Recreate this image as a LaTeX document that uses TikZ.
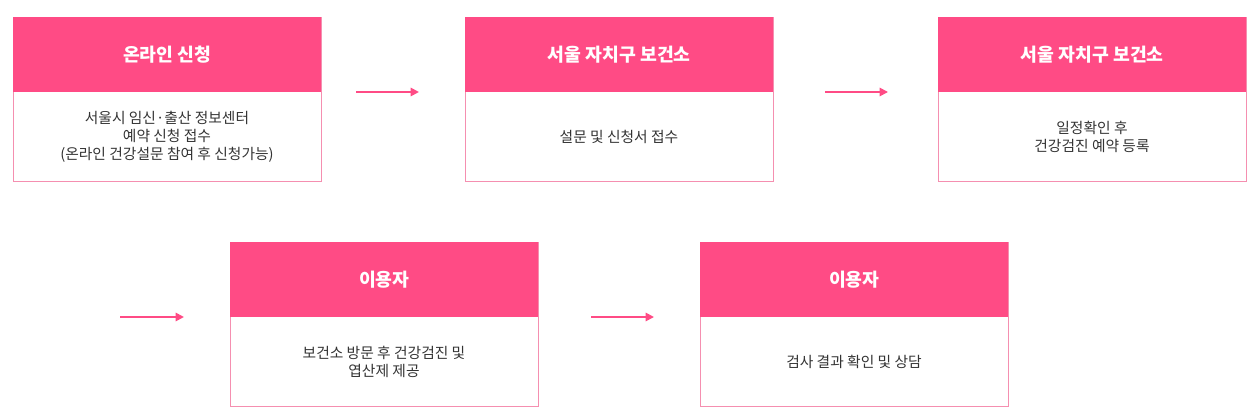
\documentclass[tikz,border=0pt]{standalone}
\usepackage{fontspec}
\setmainfont{Noto Sans CJK KR}
\usetikzlibrary{arrows.meta}
\definecolor{hotpink}{HTML}{FF4B85}
\definecolor{lightpink}{HTML}{F58FB0}
\begin{document}
\begin{tikzpicture}[
        x=0.025cm, y=-0.025cm,
        head/.style={fill=hotpink, text=white, font=\bfseries\fontsize{13}{15}\selectfont, anchor=north west, minimum width=308*0.025cm, minimum height=75*0.025cm, inner sep=0pt},
        body/.style={draw=lightpink, line width=0.8pt, anchor=north west, minimum width=308*0.025cm, minimum height=164*0.025cm, inner sep=0pt},
        txt/.style={align=center, font=\fontsize{10.5}{13}\selectfont, text=black!80},
        arrow/.style={-{Triangle[length=6pt,width=6pt]}, hotpink, line width=1.3pt}
    ]
    \useasboundingbox (0,0) rectangle (1256,420);

    % Top row
    \node (box1) at (13,17) [body] {};
    \node (head1) at (13,17) [head] {온라인 신청};
    \node (text1) at (167,137) [txt] {서울시 임신·출산 정보센터\\예약 신청 접수\\(온라인 건강설문 참여 후 신청가능)};

    \node (box2) at (465,17) [body] {};
    \node (head2) at (465,17) [head] {서울 자치구 보건소};
    \node (text2) at (619,137) [txt] {설문 및 신청서 접수};

    \node (box3) at (938,17) [body] {};
    \node (head3) at (938,17) [head] {서울 자치구 보건소};
    \node (text3) at (1092,137) [txt] {일정확인 후\\건강검진 예약 등록};

    % Bottom row
    \node (box4) at (230,242) [body] {};
    \node (head4) at (230,242) [head] {이용자};
    \node (text4) at (384,362) [txt] {보건소 방문 후 건강검진 및\\엽산제 제공};

    \node (box5) at (700,242) [body] {};
    \node (head5) at (700,242) [head] {이용자};
    \node (text5) at (854,362) [txt] {검사 결과 확인 및 상담};

    % Arrows
    \coordinate (a1s) at (356,92); \coordinate (a1e) at (419,92);
    \coordinate (a2s) at (825,92); \coordinate (a2e) at (888,92);
    \coordinate (a3s) at (120,317); \coordinate (a3e) at (184,317);
    \coordinate (a4s) at (591,317); \coordinate (a4e) at (654,317);
    \draw[arrow] (a1s) -- (a1e);
    \draw[arrow] (a2s) -- (a2e);
    \draw[arrow] (a3s) -- (a3e);
    \draw[arrow] (a4s) -- (a4e);

    \end{tikzpicture}
\end{document}
